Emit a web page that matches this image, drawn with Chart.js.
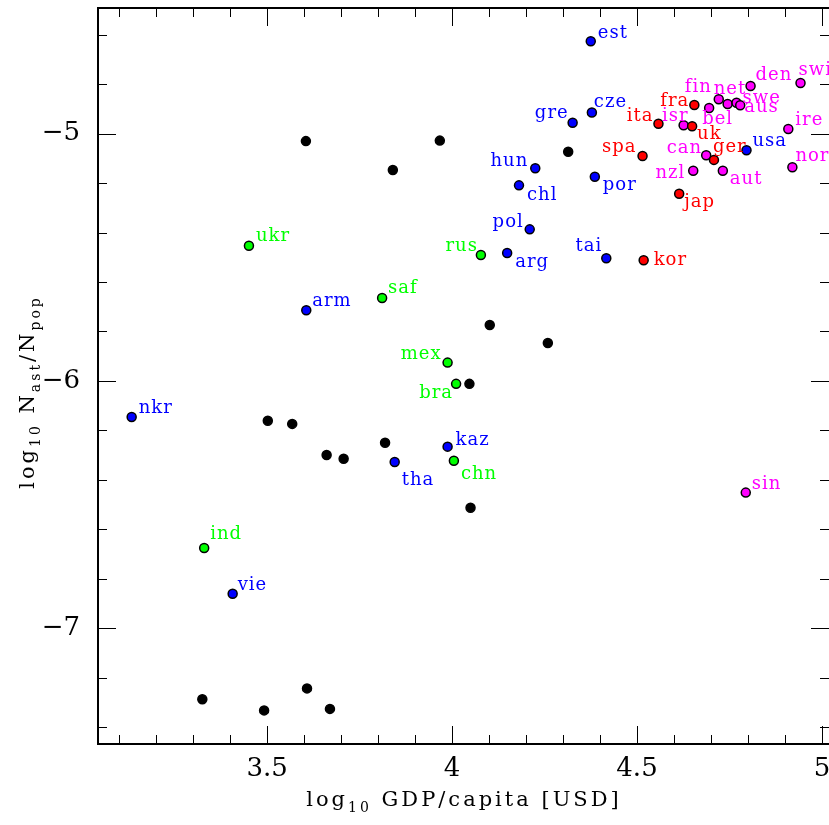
<!DOCTYPE html>
<html>
<head>
<meta charset="utf-8">
<script src="https://cdn.jsdelivr.net/npm/chart.js@4/dist/chart.umd.min.js"></script>
<style>
  html, body { margin: 0; padding: 0; background: #fff; }
  canvas { display: block; }
</style>
</head>
<body>
<canvas id="c" width="829" height="825"></canvas>
<script>
// countries without a label
const otherX = [3.605, 3.967, 3.840, 4.314, 4.102, 4.259, 4.047, 3.502, 3.568, 3.819, 3.661, 3.707, 4.050, 3.325, 3.608, 3.492, 3.670];
const otherY = [-5.030, -5.028, -5.147, -5.073, -5.774, -5.847, -6.012, -6.161, -6.174, -6.250, -6.300, -6.315, -6.513, -7.288, -7.244, -7.333, -7.327];

const blueNames = ['est', 'cze', 'gre', 'hun', 'chl', 'por', 'pol', 'arg', 'tai', 'usa', 'arm', 'kaz', 'tha', 'nkr', 'vie'];
const blueX = [4.375, 4.378, 4.326, 4.225, 4.181, 4.386, 4.210, 4.149, 4.417, 4.796, 3.606, 3.988, 3.845, 3.134, 3.407];
const blueY = [-4.626, -4.914, -4.956, -5.140, -5.209, -5.174, -5.387, -5.483, -5.504, -5.067, -5.714, -6.266, -6.328, -6.146, -6.861];

const greenNames = ['ukr', 'rus', 'saf', 'mex', 'bra', 'chn', 'ind'];
const greenX = [3.451, 4.078, 3.811, 3.988, 4.011, 4.005, 3.330];
const greenY = [-5.453, -5.491, -5.665, -5.926, -6.012, -6.323, -6.676];

const redNames = ['fra', 'ita', 'uk', 'spa', 'ger', 'jap', 'kor'];
const redX = [4.655, 4.558, 4.649, 4.515, 4.708, 4.614, 4.518];
const redY = [-4.884, -4.960, -4.970, -5.090, -5.106, -5.243, -5.512];

const magentaNames = ['den', 'swi', 'fin', 'net', 'swe', 'aus', 'bel', 'isr', 'ire', 'can', 'nor', 'nzl', 'aut', 'sin'];
const magentaX = [4.807, 4.942, 4.721, 4.745, 4.769, 4.779, 4.695, 4.626, 4.909, 4.687, 4.920, 4.652, 4.732, 4.794];
const magentaY = [-4.807, -4.795, -4.861, -4.880, -4.875, -4.885, -4.896, -4.966, -4.981, -5.087, -5.136, -5.150, -5.150, -6.452];

const xTickValues = [3.5, 4, 4.5, 5];
const yTickValues = [-7, -6, -5];

// where each name sits next to its dot: [dx, dy, side]
const blueLabelPos = [[7, -3, 'l'], [2, -5, 'l'], [-4, -5, 'r'], [-7, -2, 'r'], [8, 15, 'l'], [8, 13, 'l'], [-6, -2, 'r'], [8, 14, 'l'], [-4, -7, 'r'], [6, -4, 'l'], [6, -4, 'l'], [8, -2, 'l'], [7, 23, 'l'], [7, -4, 'l'], [5, -4, 'l']];
const greenLabelPos = [[7, -5, 'l'], [-3, -4, 'r'], [6, -5, 'l'], [-6, -4, 'r'], [-3, 14, 'r'], [7, 18, 'l'], [6, -9, 'l']];
const redLabelPos = [[-5, 1, 'r'], [-5, -3, 'r'], [5, 13, 'l'], [-6, -4, 'r'], [-1, -8, 'l'], [5, 13, 'l'], [10, 5, 'l']];
const magentaLabelPos = [[5, -6, 'l'], [-2, -8, 'l'], [-7, -7, 'r'], [-14, -10, 'l'], [6, 0, 'l'], [4, 7, 'l'], [-7, 16, 'l'], [5, -4, 'r'], [7, -4, 'l'], [-4, -2, 'r'], [3, -6, 'l'], [-8, 7, 'r'], [7, 13, 'l'], [6, -4, 'l']];

const pts = (xs, ys) => xs.map((x, i) => ({ x: x, y: ys[i] }));

function group(label, color, xs, ys, names, pos) {
    return {
        label: label,
        data: pts(xs, ys),
        backgroundColor: color,
        borderColor: '#000',
        names: names,
        labelPos: pos
    };
}

// frame (left, top, bottom; the right edge runs off the canvas) and inward ticks on all sides
const frameTicks = {
    id: 'frameTicks',
    afterDraw(chart) {
        const { ctx, chartArea: a, scales: { x, y } } = chart;
        ctx.save();
        ctx.strokeStyle = '#000';
        ctx.lineWidth = 1;
        ctx.beginPath();
        for (let i = 31; i <= 50; i++) {
            const px = Math.round(x.getPixelForValue(i / 10)) + 0.5;
            const len = i % 5 === 0 ? 18 : 9;
            ctx.moveTo(px, a.bottom); ctx.lineTo(px, a.bottom - len);
            ctx.moveTo(px, a.top); ctx.lineTo(px, a.top + len);
        }
        for (let i = -37; i <= -23; i++) {
            const py = Math.round(y.getPixelForValue(i / 5)) + 0.5;
            const len = i % 5 === 0 ? 18 : 9;
            ctx.moveTo(a.left, py); ctx.lineTo(a.left + len, py);
            ctx.moveTo(a.right, py); ctx.lineTo(a.right - len, py);
        }
        ctx.stroke();
        ctx.lineWidth = 2;
        ctx.beginPath();
        ctx.moveTo(a.right, a.top);
        ctx.lineTo(a.left, a.top);
        ctx.lineTo(a.left, a.bottom);
        ctx.lineTo(a.right, a.bottom);
        ctx.stroke();
        ctx.restore();
    }
};

const nameLabels = {
    id: 'nameLabels',
    afterDatasetsDraw(chart) {
        const ctx = chart.ctx;
        ctx.save();
        ctx.font = '18px "DejaVu Serif"';
        ctx.letterSpacing = '1px';
        ctx.textBaseline = 'alphabetic';
        ctx.textAlign = 'left';
        chart.data.datasets.forEach((ds, di) => {
            if (!ds.names) return;
            const meta = chart.getDatasetMeta(di);
            ctx.fillStyle = ds.backgroundColor;
            ds.names.forEach((n, i) => {
                const p = meta.data[i];
                const [dx, dy, side] = ds.labelPos[i];
                const w = ctx.measureText(n).width;
                const tx = side === 'r' ? p.x + dx - w : p.x + dx;
                ctx.fillText(n, tx, p.y + dy);
            });
        });
        ctx.restore();
    }
};

function drawParts(ctx, parts, x0, y0) {
    let x = x0;
    parts.forEach(p => {
        ctx.font = p.sub ? '14px "DejaVu Serif"' : '21px "DejaVu Serif"';
        ctx.fillText(p.t, x, y0 + (p.sub ? 6 : 0));
        x += ctx.measureText(p.t).width;
    });
    return x - x0;
}

function partsWidth(ctx, parts) {
    let w = 0;
    parts.forEach(p => {
        ctx.font = p.sub ? '14px "DejaVu Serif"' : '21px "DejaVu Serif"';
        w += ctx.measureText(p.t).width;
    });
    return w;
}

const axisTitles = {
    id: 'axisTitles',
    afterDraw(chart) {
        const ctx = chart.ctx;
        ctx.save();
        ctx.fillStyle = '#000';
        ctx.textAlign = 'left';
        ctx.textBaseline = 'alphabetic';
        ctx.letterSpacing = '3px';
        const xParts = [{ t: 'log' }, { t: '10', sub: true }, { t: ' GDP/capita [USD]' }];
        const xw = partsWidth(ctx, xParts);
        drawParts(ctx, xParts, 464 - xw / 2, 806);
        const yParts = [{ t: 'log' }, { t: '10', sub: true }, { t: ' N' }, { t: 'ast', sub: true }, { t: '/N' }, { t: 'pop', sub: true }];
        const yw = partsWidth(ctx, yParts);
        ctx.translate(34, 392);
        ctx.rotate(-Math.PI / 2);
        drawParts(ctx, yParts, -yw / 2, 0);
        ctx.restore();
    }
};

new Chart(document.getElementById('c').getContext('2d'), {
    type: 'scatter',
    data: {
        datasets: [
            group('other', '#000000', otherX, otherY, null, null),
            group('blue', '#0000ff', blueX, blueY, blueNames, blueLabelPos),
            group('green', '#00ff00', greenX, greenY, greenNames, greenLabelPos),
            group('red', '#ff0000', redX, redY, redNames, redLabelPos),
            group('magenta', '#ff00ff', magentaX, magentaY, magentaNames, magentaLabelPos)
        ]
    },
    options: {
        responsive: false,
        animation: false,
        devicePixelRatio: 1,
        layout: { autoPadding: false, padding: { top: 8, left: 0, right: 0, bottom: 0 } },
        elements: { point: { radius: 4.5, hoverRadius: 4.5, borderWidth: 1.5 } },
        plugins: { legend: { display: false }, tooltip: { enabled: false } },
        scales: {
            x: {
                type: 'linear',
                min: 3.043,
                max: 5.019,
                grid: { display: false, drawTicks: false },
                border: { display: false },
                afterBuildTicks: s => { s.ticks = xTickValues.map(v => ({ value: v })); },
                afterFit: s => { s.height = 81; s.paddingLeft = 0; s.paddingRight = 0; },
                ticks: {
                    color: '#000',
                    font: { family: 'DejaVu Serif', size: 26 },
                    padding: 10,
                    autoSkip: false,
                    maxRotation: 0,
                    callback: v => String(v)
                }
            },
            y: {
                type: 'linear',
                min: -7.469,
                max: -4.4915,
                grid: { display: false, drawTicks: false },
                border: { display: false },
                afterBuildTicks: s => { s.ticks = yTickValues.map(v => ({ value: v })); },
                afterFit: s => { s.width = 98; s.paddingTop = 0; s.paddingBottom = 0; },
                ticks: {
                    color: '#000',
                    font: { family: 'DejaVu Serif', size: 26 },
                    padding: 18,
                    autoSkip: false,
                    callback: v => '\u2212' + Math.abs(v)
                }
            }
        }
    },
    plugins: [frameTicks, nameLabels, axisTitles]
});
</script>
</body>
</html>
